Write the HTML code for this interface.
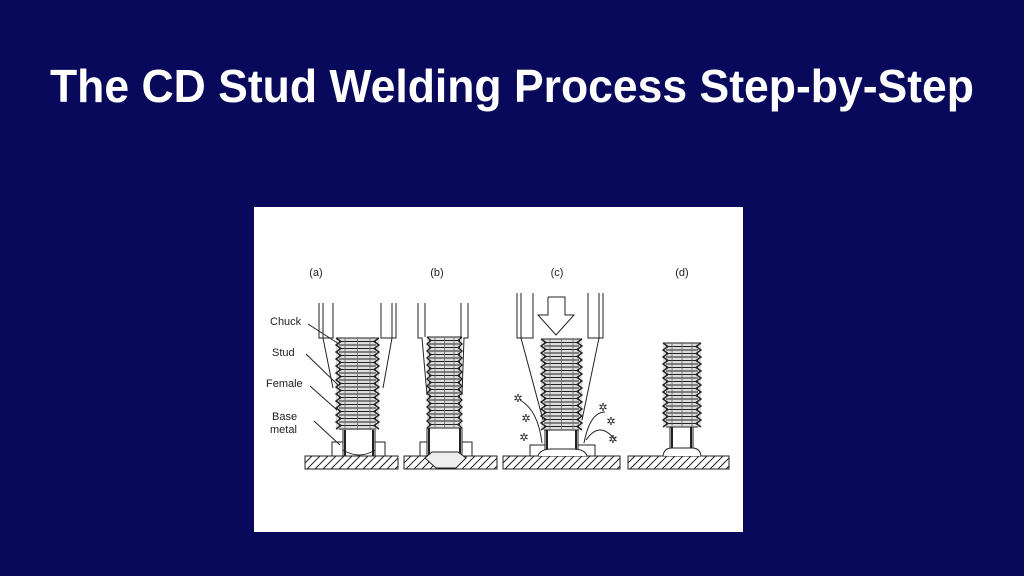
<!DOCTYPE html>
<html><head><meta charset="utf-8"><style>
html,body{margin:0;padding:0;background:#09095c;width:1024px;height:576px;overflow:hidden}
svg{display:block}
</style></head><body>
<svg id="s" width="1024" height="576" viewBox="0 0 1024 576" xmlns="http://www.w3.org/2000/svg">
<rect width="1024" height="576" fill="#09095c"/>
<text x="512" y="102" text-anchor="middle" font-family="Liberation Sans, sans-serif" font-weight="bold" font-size="46" fill="#fff" textLength="924" lengthAdjust="spacingAndGlyphs">The CD Stud Welding Process Step-by-Step</text>
<rect x="254" y="207" width="489" height="325" fill="#fff"/>
<g font-family="Liberation Sans, sans-serif" font-size="11" fill="#222">
<text x="316" y="276" text-anchor="middle">(a)</text>
<text x="437" y="276" text-anchor="middle">(b)</text>
<text x="557" y="276" text-anchor="middle">(c)</text>
<text x="682" y="276" text-anchor="middle">(d)</text>
<text x="270" y="325">Chuck</text>
<text x="272" y="356">Stud</text>
<text x="266" y="387">Female</text>
<text x="272" y="420">Base</text>
<text x="270" y="433">metal</text>
</g>
<g id="d" fill="none" stroke="#222" stroke-width="1"></g>
</svg>
<script>
var g=document.getElementById('d'),h='';
function L(p){h+='<polyline points="'+p+'"/>';}
function R(x,y,w,hh){h+='<rect x="'+x+'" y="'+y+'" width="'+w+'" height="'+hh+'" fill="#fff"/>';}
function plate(x1,x2){R(x1,456,x2-x1,13);for(var x=x1-6;x<x2;x+=8){var a=Math.max(x,x1),ya=469-(a-x);var b=Math.min(x+13,x2),yb=469-(b-x);L(a+','+Math.min(469,ya)+' '+b+','+Math.max(456,yb));}}
function stud(x1,x2,y1,y2,amp){var p1='',p2='',i=0;h+='<rect x="'+x1+'" y="'+y1+'" width="'+(x2-x1)+'" height="'+(y2-y1)+'" fill="#ddd" stroke="none"/>';for(var y=y1;y<=y2;y+=3.5){var o=(i%2)?amp:0;p1+=(x1+o)+','+y+' ';p2+=(x2-o)+','+y+' ';h+='<line x1="'+(x1+amp-2)+'" y1="'+y+'" x2="'+(x2-amp+2)+'" y2="'+y+'" stroke-width="1.1"/>';i++;}
h+='<polyline points="'+p1+'" stroke-width="1.4"/><polyline points="'+p2+'" stroke-width="1.4"/>';L(x1+','+y1+' '+x2+','+y1);
for(var k=0;k<3;k++){var xx=x1+amp+4+k*((x2-x1-2*amp-8)/2);h+='<line x1="'+xx+'" y1="'+y1+'" x2="'+xx+'" y2="'+y2+'" stroke-width="0.8" stroke="#666"/>';}}
function shank(x1,x2,y1,y2){R(x1,y1,x2-x1,y2-y1);h+='<line x1="'+(x1+2)+'" y1="'+y1+'" x2="'+(x1+2)+'" y2="'+y2+'" stroke-width="2"/>';h+='<line x1="'+(x2-2)+'" y1="'+y1+'" x2="'+(x2-2)+'" y2="'+y2+'" stroke-width="2"/>';}
function chuck(ol,il,ir,or,top,yb,cl,cr,yc){L(ol+','+top+' '+ol+','+yb+' '+il+','+yb+' '+il+','+top);L(or+','+top+' '+or+','+yb+' '+ir+','+yb+' '+ir+','+top);L(ol+4+','+top+' '+(ol+4)+','+yb+' '+cl+','+yc+' ');L(or-4+','+top+' '+(or-4)+','+yb+' '+cr+','+yc);}
plate(305,398);
R(332,442,53,14);
shank(343,375,428,456);
h+='<path d="M343,450 Q359,460 375,450"/>';
stud(336,379,338,430,5);
chuck(319,333,381,396,303,338,333,383,388);
plate(404,497);
R(420,442,52,14);
shank(427,462,428,456);
h+='<path d="M425,458 L432,452 L458,452 L466,458 L456,468 L436,468 Z" fill="#eee"/>';
stud(427,462,337,428,4);
L('418,303 418,338 422,338 427,395');L('468,303 468,338 464,338 462,395');L('425,303 425,337');L('461,303 461,337');
plate(503,620);
R(530,445,65,11);
shank(545,578,428,456);
h+='<path d="M538,456 Q540,449 552,449 L572,449 Q585,449 587,456" fill="#fff"/>';
stud(541,582,339,430,5);
chuck(517,533,588,603,293,338,543,582,420);
L('548,297 565,297 565,315 574,315 556,335 538,315 548,315 548,297');
h+='<path d="M542,443 Q538,410 520,400 M584,443 Q590,412 605,412 M586,440 Q600,420 615,440"/>';
['518,402','526,422','524,441','603,411','611,425','613,443'].forEach(function(c){var a=c.split(',');h+='<text x="'+a[0]+'" y="'+a[1]+'" font-size="11" fill="#222" stroke="none" text-anchor="middle">✲</text>';});
plate(628,729);
shank(670,693,427,452);
h+='<path d="M663,456 Q664,448 672,448 L692,448 Q700,448 701,456" fill="#fff"/>';
stud(663,701,343,427,5);
L('308,324 339,344');L('306,354 338,385');L('310,386 337,410');L('314,421 340,445');
g.innerHTML=h;
</script>
</body></html>
